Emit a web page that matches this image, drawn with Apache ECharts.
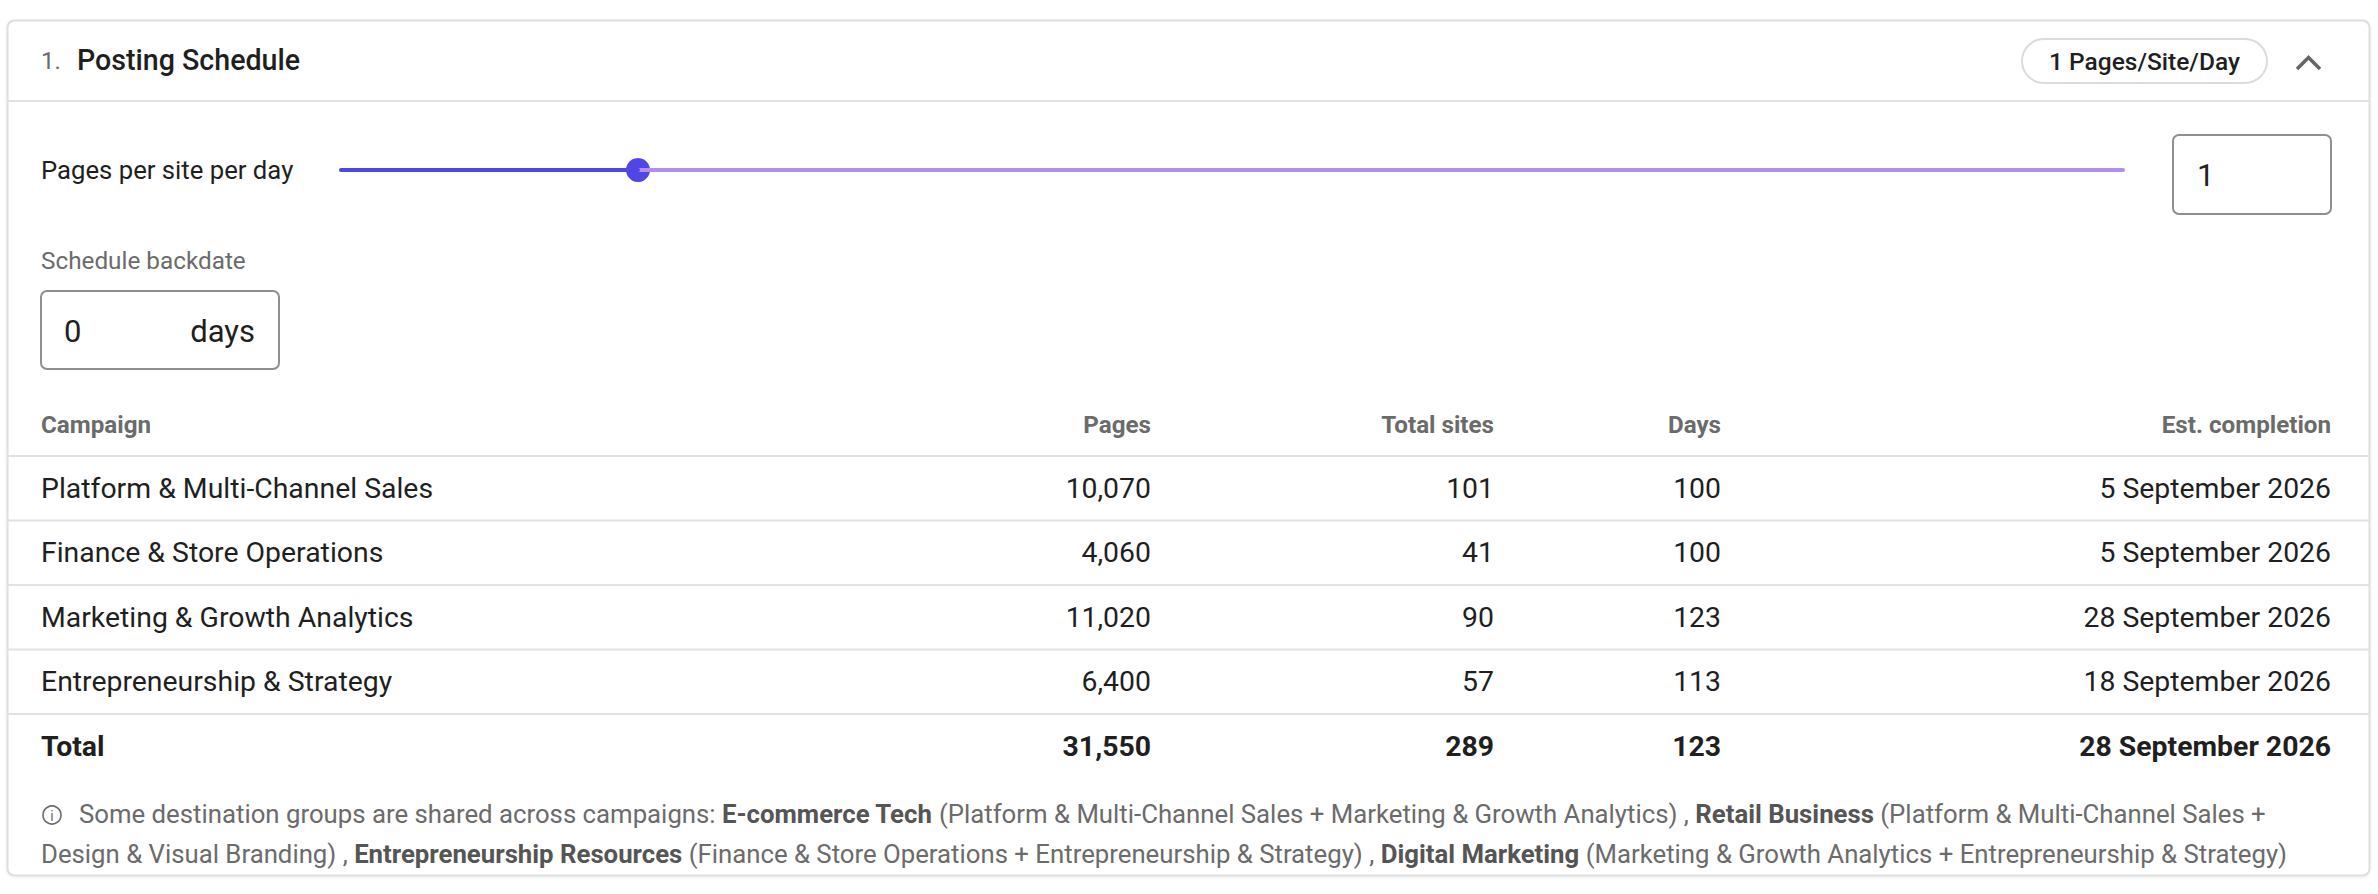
<!DOCTYPE html>
<html>
<head>
<meta charset="utf-8">
<style>
  html, body { margin: 0; padding: 0; background: #fff; }
  #chart { width: 2378px; height: 894px; }
</style>
<script src="https://cdn.jsdelivr.net/npm/echarts@6/dist/echarts.min.js"></script>
</head>
<body>
<div id="chart"></div>
<script>
"use strict";

// --- data --------------------------------------------------------------------
const sectionNo = "1.";
const sectionTitle = "Posting Schedule";
const sliderLabel = "Pages per site per day";
const sliderMin = 0;
const sliderMax = 6;
const pagesPerSiteDay = 1;
const backdateLabel = "Schedule backdate";
const backdateDays = 0;

const columns = ["Campaign", "Pages", "Total sites", "Days", "Est. completion"];
const campaigns = [
  "Platform & Multi-Channel Sales",
  "Finance & Store Operations",
  "Marketing & Growth Analytics",
  "Entrepreneurship & Strategy",
];
const pages = [10070, 4060, 11020, 6400];
const totalSites = [101, 41, 90, 57];
const days = [100, 100, 123, 113];
const completion = ["5 September 2026", "5 September 2026", "28 September 2026", "18 September 2026"];
const totalRow = ["Total", 31550, 289, 123, "28 September 2026"];

// shared destination groups: [group, campaigns it spans]
const sharedGroups = [
  ["E-commerce Tech", "Platform & Multi-Channel Sales + Marketing & Growth Analytics"],
  ["Retail Business", "Platform & Multi-Channel Sales + Design & Visual Branding"],
  ["Entrepreneurship Resources", "Finance & Store Operations + Entrepreneurship & Strategy"],
  ["Digital Marketing", "Marketing & Growth Analytics + Entrepreneurship & Strategy"],
];

// --- look --------------------------------------------------------------------
const FONT = "Roboto, 'Noto Sans', sans-serif";
const INK = "#1f1f1f";
const MUTED = "#6b6b6b";
const RULE = "#e2e2e2";
const ACCENT = "#4f46e5";
const TRACK = "#b38df2";
const CARD = { l: 7, t: 20, r: 2369, b: 875 };
const COL_X = [41, 1151, 1494, 1721, 2331];   // left edge, then right edges
const ROW_FONT = 28.4;
const NOTE_FONT = 25.75;

const fmt = v => typeof v === "number" ? v.toLocaleString("en-US") : v;

const txt = (x, y, text, o = {}) => ({
  type: "text", x, y, z: 10, silent: true,
  style: Object.assign({
    text, fontFamily: FONT, fontSize: 26, fill: INK,
    align: "left", verticalAlign: "middle",
  }, o),
});

// footnote, split where the reference wraps
const note = sharedGroups.map(([g, c]) => `{b|${g}}{n| (${c})}`);
const noteLine1 = "{n|Some destination groups are shared across campaigns: }" +
  note[0] + "{n| , }{b|" + sharedGroups[1][0] + "}{n| (Platform & Multi-Channel Sales +}";
const noteLine2 = "{n|Design & Visual Branding) , }" + note[2] + "{n| , }" + note[3];
const noteRich = {
  n: { fontFamily: FONT, fontSize: NOTE_FONT, fill: MUTED, color: MUTED },
  b: { fontFamily: FONT, fontSize: NOTE_FONT, fontWeight: "bold", fill: "#555", color: "#555" },
};

const graphic = [
  // card + header rule
  { type: "rect", z: -5, silent: true,
    shape: { x: CARD.l + 0.5, y: CARD.t + 0.5, width: CARD.r - CARD.l, height: CARD.b - CARD.t, r: 7 },
    style: { fill: "#fff", stroke: "#dedede", lineWidth: 2,
             shadowColor: "rgba(0,0,0,0.08)", shadowBlur: 3, shadowOffsetY: 1 } },
  { type: "line", z: 1, silent: true,
    shape: { x1: CARD.l, y1: 101, x2: CARD.r, y2: 101 }, style: { stroke: RULE, lineWidth: 2 } },

  txt(41, 61, sectionNo, { fontSize: 24, fill: MUTED }),
  txt(77, 60, sectionTitle, { fontSize: 28.6, fontWeight: 500 }),

  // pill + chevron
  { type: "rect", z: 2, silent: true,
    shape: { x: 2022, y: 39, width: 245, height: 44, r: 22 },
    style: { fill: "#fff", stroke: "#dcdcdc", lineWidth: 2 } },
  txt(2144.5, 61, `${pagesPerSiteDay} Pages/Site/Day`, { fontSize: 24.5, fontWeight: 500, align: "center" }),
  { type: "polyline", z: 2, silent: true,
    shape: { points: [[2297, 69], [2308.5, 57.5], [2320, 69]] },
    style: { stroke: "#666", lineWidth: 3.5, fill: null } },

  // slider row
  txt(41, 170, sliderLabel, { fontSize: 25.7 }),
  { type: "rect", z: 2, silent: true,
    shape: { x: 2173, y: 135, width: 158, height: 79, r: 6 },
    style: { fill: "#fff", stroke: "#8f8f8f", lineWidth: 2 } },
  txt(2197, 175, String(pagesPerSiteDay), { fontSize: 31 }),

  // backdate
  txt(41, 260, backdateLabel, { fontSize: 24.3, fill: MUTED }),
  { type: "rect", z: 2, silent: true,
    shape: { x: 41, y: 291, width: 238, height: 78, r: 6 },
    style: { fill: "#fff", stroke: "#8f8f8f", lineWidth: 2 } },
  txt(64, 331, String(backdateDays), { fontSize: 31 }),
  txt(255, 331, "days", { fontSize: 31, align: "right" }),

  // table header
  ...columns.map((c, i) => txt(COL_X[i], 425, c, {
    fontSize: 24.2, fontWeight: "bold", fill: MUTED, align: i === 0 ? "left" : "right",
  })),

  // footnote
  { type: "circle", z: 10, silent: true, shape: { cx: 52, cy: 815, r: 9 },
    style: { fill: null, stroke: MUTED, lineWidth: 1.6 } },
  txt(52, 816, "i", { fontSize: 14, fill: MUTED, align: "center" }),
  { type: "text", x: 79, y: 814, z: 10, silent: true,
    style: { text: noteLine1, rich: noteRich, verticalAlign: "middle", align: "left" } },
  { type: "text", x: 41, y: 854, z: 10, silent: true,
    style: { text: noteLine2, rich: noteRich, verticalAlign: "middle", align: "left" } },
];

// table rows: one category band per campaign plus the total
const rowNames = campaigns.concat([totalRow[0]]);
const rowCells = campaigns.map((c, i) => [c, pages[i], totalSites[i], days[i], completion[i]])
  .concat([totalRow]);

const chart = echarts.init(document.getElementById("chart"), null, { renderer: "svg" });
chart.setOption({
  animation: false,
  backgroundColor: "#fff",
  textStyle: { fontFamily: FONT },
  grid: [
    { left: 341, width: 1782, top: 160, height: 20 },                // slider
    { left: CARD.l, right: 2378 - CARD.r, top: 456, height: 322.5 }, // table
  ],
  xAxis: [
    { gridIndex: 0, type: "value", min: sliderMin, max: sliderMax, show: false },
    { gridIndex: 1, type: "value", min: 0, max: 1, show: false },
  ],
  yAxis: [
    { gridIndex: 0, type: "value", min: -1, max: 1, show: false },
    { gridIndex: 1, type: "category", data: rowNames, inverse: true, show: false },
  ],
  graphic,
  series: [
    { type: "line", xAxisIndex: 0, yAxisIndex: 0, silent: true, symbol: "none",
      data: [[pagesPerSiteDay, 0], [sliderMax, 0]],
      lineStyle: { color: TRACK, width: 4, cap: "round" } },
    { type: "line", xAxisIndex: 0, yAxisIndex: 0, silent: true, symbol: "none",
      data: [[sliderMin, 0], [pagesPerSiteDay, 0]],
      lineStyle: { color: ACCENT, width: 4, cap: "round" } },
    { type: "scatter", xAxisIndex: 0, yAxisIndex: 0, silent: true,
      data: [[pagesPerSiteDay, 0]], symbolSize: 24, itemStyle: { color: ACCENT, opacity: 1 } },
    {
      type: "custom", xAxisIndex: 1, yAxisIndex: 1, silent: true, clip: false,
      data: rowNames.map((_, i) => [0, i]),
      encode: { x: 0, y: 1 },
      renderItem(params, api) {
        const i = params.dataIndex;
        const isTotal = i === rowNames.length - 1;
        const y = api.coord([0, i])[1];
        const h = api.size([0, 1])[1];
        const children = rowCells[i].map((v, c) => ({
          type: "text", x: COL_X[c], y,
          style: {
            text: fmt(v), fontFamily: FONT, fontSize: ROW_FONT,
            fontWeight: isTotal ? "bold" : "normal", fill: INK,
            align: c === 0 ? "left" : "right", verticalAlign: "middle",
          },
        }));
        if (i === 0) children.push({ type: "line",
          shape: { x1: CARD.l, y1: y - h / 2, x2: CARD.r, y2: y - h / 2 },
          style: { stroke: RULE, lineWidth: 2 } });
        if (!isTotal) children.push({ type: "line",
          shape: { x1: CARD.l, y1: y + h / 2, x2: CARD.r, y2: y + h / 2 },
          style: { stroke: RULE, lineWidth: 2 } });
        return { type: "group", children };
      },
    },
  ],
});
</script>
</body>
</html>
